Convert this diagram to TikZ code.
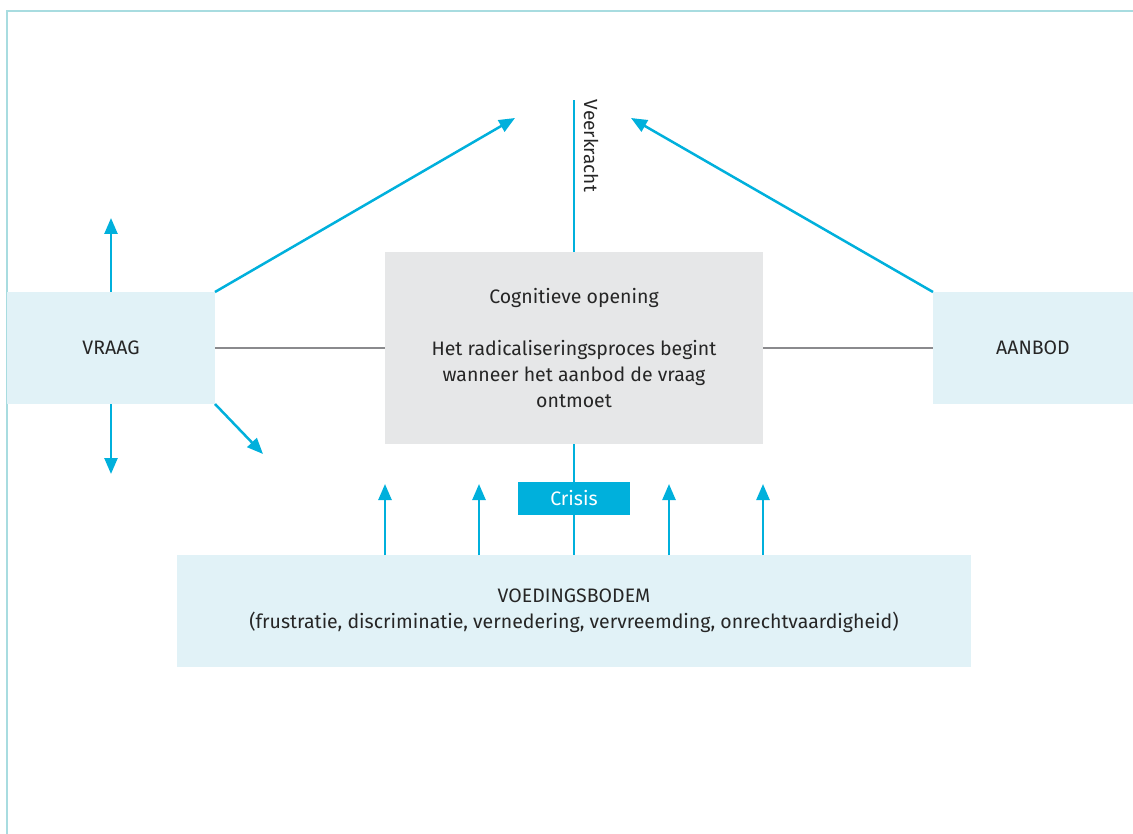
\documentclass[tikz,border=0pt]{standalone}
\usepackage{fontspec}
\setmainfont{Fira Sans}
\usetikzlibrary{arrows.meta}
\definecolor{frame}{HTML}{A8DCE0}
\definecolor{lightbox}{HTML}{E1F2F7}
\definecolor{greybox}{HTML}{E6E7E8}
\definecolor{cyanline}{HTML}{00B0DC}
\definecolor{greyline}{HTML}{8A8A8D}
\tikzset{
  box/.style={inner sep=0pt, outer sep=0pt, align=center, font=\fontsize{19.5}{26}\selectfont, text=black!85},
  arr/.style={draw=cyanline, line width=2.5pt, -{Triangle[length=16pt,width=13pt]}},
  cline/.style={draw=cyanline, line width=2.5pt},
  gline/.style={draw=greyline, line width=2pt},
}
\begin{document}
\begin{tikzpicture}[x=1pt,y=-1pt]
\useasboundingbox (0,0) rectangle (1133,834);
\draw[frame, line width=2.5pt] (7,834) -- (7,11) -- (1133,11);
% boxes
\node[box, fill=lightbox, minimum width=208pt, minimum height=112pt] (vraag) at (111,348) {VRAAG};
\node[box, fill=lightbox, minimum width=200pt, minimum height=112pt] (aanbod) at (1033,348) {AANBOD};
\node[box, fill=greybox, minimum width=378pt, minimum height=192pt] (center) at (574,348) {\raisebox{0pt}[0pt][0pt]{}Cognitieve opening\\[26pt]Het radicaliseringsproces begint\\wanneer het aanbod de vraag\\ontmoet};
\node[box, fill=lightbox, minimum width=794pt, minimum height=112pt] (voed) at (574,611) {VOEDINGSBODEM\\(frustratie, discriminatie, vernedering, vervreemding, onrechtvaardigheid)};
% coordinates
\coordinate (vtop) at (574,100);
\coordinate (tl) at (515,118);
\coordinate (tr) at (631,118);
\coordinate (vup) at (111,218);
\coordinate (vdown) at (111,474);
\coordinate (vdiag) at (263,454);
% grey connectors
\draw[gline] (vraag.east) -- (center.west);
\draw[gline] (center.east) -- (aanbod.west);
% veerkracht
\draw[cline] (center.north) -- (vtop);
\node[box, rotate=-90, anchor=south west, font=\fontsize{19}{22}\selectfont] (veer) at (584,100) {Veerkracht};
% crisis
\draw[cline] (center.south) -- (voed.north);
\node[box, fill=cyanline, text=white, minimum width=112pt, minimum height=33pt] (crisis) at (574,498.5) {Crisis};
% arrows
\draw[arr] (vraag.north east) -- (tl);
\draw[arr] (aanbod.north west) -- (tr);
\draw[arr] (vraag.north) -- (vup);
\draw[arr] (vraag.south) -- (vdown);
\draw[arr] (vraag.south east) -- (vdiag);
\foreach \x/\n in {385/a,479/b,669/c,763/d}{
  \coordinate (up\n) at (\x,484);
  \draw[arr] (voed.north -| up\n) -- (up\n);
}
\end{tikzpicture}
\end{document}
